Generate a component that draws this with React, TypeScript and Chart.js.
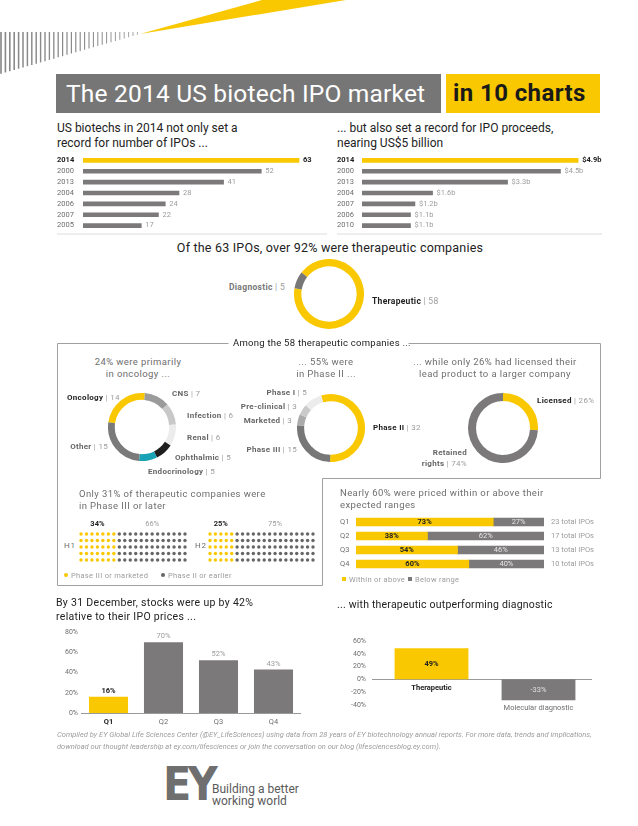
import React, { useEffect, useRef } from 'react';
import { Chart, registerables } from 'chart.js';
Chart.register(...registerables);

const FONT = 'Roboto, "Open Sans", Arial, sans-serif';
const YELLOW = '#f9c800';
const GRAY = '#7c797a';
const DARK = '#222222';
const MID = '#6e6e6e';
const LIGHT = '#9c9c9c';

// ---------- data ----------
const ipoYears = ['2014', '2000', '2013', '2004', '2006', '2007', '2005'];
const ipoCounts = [63, 52, 41, 28, 24, 22, 17];
const proceedsYears = ['2014', '2000', '2013', '2004', '2007', '2006', '2010'];
const proceedsBillions = [4.9, 4.5, 3.3, 1.6, 1.2, 1.1, 1.1];

const typeLabels = ['Therapeutic', 'Diagnostic'];
const typeCounts = [58, 5];

const areaLabels = ['Oncology', 'CNS', 'Infection', 'Renal', 'Ophthalmic', 'Endocrinology', 'Other'];
const areaCounts = [14, 7, 6, 6, 5, 5, 15];
const areaColors = [YELLOW, '#9b9b9b', '#c8c8c8', '#ececec', '#1e1e1e', '#17a2b5', '#7a7a7a'];

const phaseLabels = ['Phase II', 'Phase III', 'Marketed', 'Pre-clinical', 'Phase I'];
const phaseCounts = [32, 15, 3, 3, 5];
const phaseColors = [YELLOW, '#777777', '#ababab', '#cacaca', '#ececec'];

const licenseLabels = ['Licensed', 'Retained rights'];
const licensePct = [26, 74];

const halves = ['H1', 'H2'];
const phase3Pct = [34, 25];
const earlierPct = [66, 75];
const phase3Cols = [7, 5];
const earlierCols = [13, 15];
const gridRows = 5;

const quarters = ['Q1', 'Q2', 'Q3', 'Q4'];
const withinPct = [73, 38, 54, 60];
const belowPct = [27, 62, 46, 40];
const totalIpos = [23, 17, 13, 10];

const stockGainPct = [16, 70, 52, 43];
const segmentLabels = ['Therapeutic', 'Molecular diagnostic'];
const segmentGainPct = [49, -33];

// ---------- helpers ----------
const noPlugins = { legend: { display: false }, tooltip: { enabled: false } };

function ChartCanvas({ x, y, w, h, config }: any) {
  const ref = useRef<HTMLCanvasElement>(null);
  useEffect(() => {
    const c = new Chart(ref.current as HTMLCanvasElement, config());
    return () => c.destroy();
  }, []);
  return (
    <canvas
      ref={ref}
      width={w}
      height={h}
      style={{ position: 'absolute', left: x, top: y, width: w, height: h }}
    />
  );
}

function hbarConfig(labels: string[], values: number[], max: number, axisW: number, fmt: (v: number) => string) {
  return () => ({
    type: 'bar',
    data: {
      labels,
      datasets: [{ data: values, backgroundColor: values.map((_, i) => (i === 0 ? YELLOW : GRAY)), barThickness: 4 }],
    },
    options: {
      responsive: false,
      animation: false,
      events: [],
      indexAxis: 'y',
      layout: { padding: { top: 6, bottom: 6, left: 0, right: 0 } },
      plugins: noPlugins,
      scales: {
        x: { display: false, min: 0, max },
        y: {
          grid: { display: false, drawTicks: false },
          border: { display: false },
          ticks: {
            padding: 0,
            autoSkip: false,
            crossAlign: 'far',
            color: (c: any) => (c.index === 0 ? DARK : MID),
            font: (c: any) => ({ family: FONT, size: 7.5, weight: c.index === 0 ? 'bold' : 'normal' }),
          },
          afterFit: (s: any) => {
            s.width = axisW;
          },
        },
      },
    },
    plugins: [
      {
        id: 'vals',
        afterDatasetsDraw(chart: any) {
          const ctx = chart.ctx;
          const meta = chart.getDatasetMeta(0);
          ctx.save();
          ctx.textBaseline = 'middle';
          ctx.textAlign = 'left';
          meta.data.forEach((bar: any, i: number) => {
            ctx.font = `${i === 0 ? 'bold ' : ''}7.5px ${FONT}`;
            ctx.fillStyle = i === 0 ? DARK : LIGHT;
            ctx.fillText(fmt(values[i]), bar.x + 4, bar.y);
          });
          ctx.restore();
        },
      },
    ],
  });
}

function donutConfig(labels: string[], values: number[], colors: string[], cutout: string, rotation: number) {
  return () => ({
    type: 'doughnut',
    data: { labels, datasets: [{ data: values, backgroundColor: colors, borderWidth: 0 }] },
    options: {
      responsive: false,
      animation: false,
      events: [],
      cutout,
      rotation,
      layout: { padding: 0 },
      plugins: noPlugins,
    },
  });
}

function dotsConfig(idx: number) {
  const yc = phase3Cols[idx];
  const gc = earlierCols[idx];
  const total = yc + gc;
  const ptsY: any[] = [];
  const ptsG: any[] = [];
  for (let c = 0; c < total; c++) {
    for (let r = 0; r < gridRows; r++) (c < yc ? ptsY : ptsG).push({ x: c, y: r });
  }
  return () => ({
    type: 'scatter',
    data: {
      datasets: [
        { data: ptsY, backgroundColor: YELLOW, pointRadius: 1.7, pointBorderWidth: 0, clip: false },
        { data: ptsG, backgroundColor: '#666666', pointRadius: 1.7, pointBorderWidth: 0, clip: false },
      ],
    },
    options: {
      responsive: false,
      animation: false,
      events: [],
      layout: { padding: { left: 5, right: 5, top: 18, bottom: 6 } },
      plugins: noPlugins,
      scales: {
        x: { display: false, min: 0, max: total - 1 },
        y: { display: false, min: 0, max: gridRows - 1, reverse: true },
      },
    },
    plugins: [
      {
        id: 'pct',
        afterDatasetsDraw(chart: any) {
          const { ctx, scales, chartArea } = chart;
          const xs = scales.x;
          ctx.save();
          ctx.textAlign = 'center';
          ctx.textBaseline = 'middle';
          const yLab = chartArea.top - 10;
          ctx.font = `bold 7.5px ${FONT}`;
          ctx.fillStyle = DARK;
          ctx.fillText(phase3Pct[idx] + '%', (xs.getPixelForValue(0) + xs.getPixelForValue(yc - 1)) / 2, yLab);
          ctx.font = `7.5px ${FONT}`;
          ctx.fillStyle = LIGHT;
          ctx.fillText(earlierPct[idx] + '%', (xs.getPixelForValue(yc) + xs.getPixelForValue(total - 1)) / 2, yLab);
          ctx.restore();
        },
      },
    ],
  });
}

const pricedConfig = () => ({
  type: 'bar',
  data: {
    labels: quarters,
    datasets: [
      { label: 'Within or above', data: withinPct, backgroundColor: YELLOW, barThickness: 8 },
      { label: 'Below range', data: belowPct, backgroundColor: GRAY, barThickness: 8 },
    ],
  },
  options: {
    responsive: false,
    animation: false,
    events: [],
    indexAxis: 'y',
    layout: { padding: { top: 6, bottom: 6, left: 0, right: 56 } },
    plugins: noPlugins,
    scales: {
      x: { display: false, stacked: true, min: 0, max: 100 },
      y: {
        stacked: true,
        grid: { display: false, drawTicks: false },
        border: { display: false },
        ticks: { padding: 0, autoSkip: false, crossAlign: 'far', color: MID, font: { family: FONT, size: 7.5 } },
        afterFit: (s: any) => {
          s.width = 16;
        },
      },
    },
  },
  plugins: [
    {
      id: 'inner',
      afterDatasetsDraw(chart: any) {
        const { ctx, chartArea } = chart;
        ctx.save();
        ctx.textAlign = 'center';
        ctx.textBaseline = 'middle';
        chart.getDatasetMeta(0).data.forEach((bar: any, i: number) => {
          ctx.font = `bold 7.5px ${FONT}`;
          ctx.fillStyle = DARK;
          ctx.fillText(withinPct[i] + '%', (bar.x + bar.base) / 2, bar.y);
        });
        chart.getDatasetMeta(1).data.forEach((bar: any, i: number) => {
          ctx.font = `7.5px ${FONT}`;
          ctx.fillStyle = '#e6e6e6';
          ctx.fillText(belowPct[i] + '%', (bar.x + bar.base) / 2, bar.y);
          ctx.textAlign = 'left';
          ctx.fillStyle = LIGHT;
          ctx.fillText(totalIpos[i] + ' total IPOs', chartArea.right + 7, bar.y);
          ctx.textAlign = 'center';
        });
        ctx.restore();
      },
    },
  ],
});

const stockConfig = () => ({
  type: 'bar',
  data: {
    labels: quarters,
    datasets: [
      {
        data: stockGainPct,
        backgroundColor: stockGainPct.map((_, i) => (i === 0 ? YELLOW : GRAY)),
        categoryPercentage: 1,
        barPercentage: 0.71,
      },
    ],
  },
  options: {
    responsive: false,
    animation: false,
    events: [],
    layout: { padding: { top: 10, bottom: 0, left: 0, right: 0 } },
    plugins: noPlugins,
    scales: {
      x: {
        grid: { display: false, drawTicks: false },
        border: { display: true, color: '#9a9a9a', width: 1 },
        ticks: {
          padding: 5,
          color: (c: any) => (c.index === 0 ? DARK : MID),
          font: (c: any) => ({ family: FONT, size: 7.5, weight: c.index === 0 ? 'bold' : 'normal' }),
        },
        afterFit: (s: any) => {
          s.height = 17;
        },
      },
      y: {
        min: 0,
        max: 80,
        grid: { display: false, drawTicks: false },
        border: { display: false },
        ticks: {
          stepSize: 20,
          padding: 3,
          color: MID,
          font: { family: FONT, size: 7 },
          callback: (v: any) => v + '%',
        },
        afterFit: (s: any) => {
          s.width = 30;
        },
      },
    },
  },
  plugins: [
    {
      id: 'vals',
      afterDatasetsDraw(chart: any) {
        const ctx = chart.ctx;
        ctx.save();
        ctx.textAlign = 'center';
        ctx.textBaseline = 'bottom';
        chart.getDatasetMeta(0).data.forEach((bar: any, i: number) => {
          ctx.font = `${i === 0 ? 'bold ' : ''}7.5px ${FONT}`;
          ctx.fillStyle = i === 0 ? DARK : LIGHT;
          ctx.fillText(stockGainPct[i] + '%', bar.x, bar.y - 2);
        });
        ctx.restore();
      },
    },
  ],
});

const segmentConfig = () => ({
  type: 'bar',
  data: {
    labels: segmentLabels,
    datasets: [
      {
        data: segmentGainPct,
        backgroundColor: segmentGainPct.map((_, i) => (i === 0 ? YELLOW : GRAY)),
        categoryPercentage: 1,
        barPercentage: 0.69,
      },
    ],
  },
  options: {
    responsive: false,
    animation: false,
    events: [],
    layout: { padding: { top: 8, bottom: 8, left: 0, right: 0 } },
    plugins: noPlugins,
    scales: {
      x: { display: false },
      y: {
        min: -40,
        max: 60,
        grid: { display: false, drawTicks: false },
        border: { display: false },
        ticks: {
          stepSize: 20,
          padding: 12,
          color: MID,
          font: { family: FONT, size: 7 },
          callback: (v: any) => v + '%',
        },
        afterFit: (s: any) => {
          s.width = 38;
        },
      },
    },
  },
  plugins: [
    {
      id: 'zero',
      beforeDatasetsDraw(chart: any) {
        const { ctx, chartArea, scales } = chart;
        const y0 = Math.round(scales.y.getPixelForValue(0)) + 0.5;
        ctx.save();
        ctx.strokeStyle = '#9a9a9a';
        ctx.lineWidth = 1;
        ctx.beginPath();
        ctx.moveTo(chartArea.left - 6, y0);
        ctx.lineTo(chartArea.right + 2, y0);
        ctx.stroke();
        ctx.restore();
      },
      afterDatasetsDraw(chart: any) {
        const { ctx, scales } = chart;
        const y0 = scales.y.getPixelForValue(0);
        ctx.save();
        ctx.textAlign = 'center';
        ctx.textBaseline = 'middle';
        chart.getDatasetMeta(0).data.forEach((bar: any, i: number) => {
          const v = segmentGainPct[i];
          ctx.font = `${v >= 0 ? 'bold ' : ''}7.5px ${FONT}`;
          ctx.fillStyle = v >= 0 ? DARK : '#e0e0e0';
          ctx.fillText(v + '%', bar.x, (bar.y + bar.base) / 2);
          if (v >= 0) {
            ctx.font = `bold 7.5px ${FONT}`;
            ctx.fillStyle = DARK;
            ctx.fillText(segmentLabels[i], bar.x, y0 + 9);
          } else {
            ctx.font = `7.5px ${FONT}`;
            ctx.fillStyle = MID;
            ctx.fillText(segmentLabels[i], bar.x, bar.y + 8);
          }
        });
        ctx.restore();
      },
    },
  ],
});

// ---------- text helpers ----------
function Txt({ x, y, size = 10, color = DARK, weight = 'normal', lh, ls, italic, align, w, children }: any) {
  const L = lh ?? Math.round(size * 1.25);
  const style: any = {
    position: 'absolute',
    top: y - L / 2,
    fontSize: size,
    lineHeight: L + 'px',
    color,
    fontWeight: weight,
    whiteSpace: 'nowrap',
    letterSpacing: ls ?? 0,
    fontStyle: italic ? 'italic' : 'normal',
  };
  if (align === 'center') {
    style.left = x - w / 2;
    style.width = w;
    style.textAlign = 'center';
  } else if (align === 'right') {
    style.right = 638 - x;
    style.textAlign = 'right';
  } else style.left = x;
  return <div style={style}>{children}</div>;
}

function Lbl({ x, y, b, n, bc = '#666', align, size = 8 }: any) {
  return (
    <Txt x={x} y={y} size={size} align={align} ls={0.3}>
      <span style={{ fontWeight: 'bold', color: bc }}>{b}</span>
      <span style={{ color: LIGHT }}> | {n}</span>
    </Txt>
  );
}

function Stripes() {
  const lines = [];
  for (let i = 0; i < 32; i++) {
    const x = 1 + i * 4.4;
    const t = x / 140;
    lines.push(
      <line key={i} x1={x} x2={x} y1={32} y2={74 - 40 * t} stroke="#8a8a8a" strokeWidth={1.7 - 1.0 * t} />
    );
  }
  return <>{lines}</>;
}

export default function App() {
  return (
    <div
      style={{
        position: 'absolute',
        left: 0,
        top: 0,
        width: 638,
        height: 826,
        background: '#fff',
        fontFamily: FONT,
        overflow: 'hidden',
      }}
    >
      <svg width={638} height={826} style={{ position: 'absolute', left: 0, top: 0 }}>
        <Stripes />
        <polygon points="140,34 262,0 346,0" fill={YELLOW} />
        <polyline
          points="228.5,343.5 57.5,343.5 57.5,585.5 322.5,585.5 322.5,478.5 600.5,478.5 600.5,343.5 408.5,343.5"
          fill="none"
          stroke="#a0a0a0"
          strokeWidth={1}
        />
        <line x1={57} x2={327} y1={234} y2={234} stroke="#eeeeee" strokeWidth={2} />
        <line x1={337} x2={602} y1={234} y2={234} stroke="#eeeeee" strokeWidth={2} />
      </svg>

      {/* title */}
      <div style={{ position: 'absolute', left: 56, top: 74, width: 385, height: 39, background: '#767676' }} />
      <Txt x={66} y={93.5} size={24.5} color="#ffffff" lh={39} ls={0.2}>
        The 2014 US biotech IPO market
      </Txt>
      <div style={{ position: 'absolute', left: 446, top: 74, width: 154, height: 39, background: YELLOW }} />
      <Txt x={453} y={93.5} size={24} weight="bold" color="#1a1a1a" lh={39} ls={0.4}>
        in 10 charts
      </Txt>

      <Txt x={57} y={128} size={12} lh={15}>
        US biotechs in 2014 not only set a<br />record for number of IPOs ...
      </Txt>
      <Txt x={337} y={128} size={12} lh={15}>
        ... but also set a record for IPO proceeds,<br />nearing US$5 billion
      </Txt>

      <ChartCanvas x={57} y={149} w={266} h={88} config={hbarConfig(ipoYears, ipoCounts, 70, 26, (v) => String(v))} />
      <ChartCanvas
        x={337}
        y={149}
        w={272}
        h={88}
        config={hbarConfig(proceedsYears, proceedsBillions, 5.6, 25, (v) => '$' + v.toFixed(1) + 'b')}
      />

      {/* therapeutic vs diagnostic */}
      <Txt x={330} y={248} size={12.5} align="center" w={380} ls={0.2}>
        Of the 63 IPOs, over 92% were therapeutic companies
      </Txt>
      <ChartCanvas x={294} y={259} w={70} h={70} config={donutConfig(typeLabels, typeCounts, [YELLOW, '#777777'], '79%', -52)} />
      <Lbl x={229} y={287} b="Diagnostic" n="5" bc="#777" size={8.5} />
      <Lbl x={372} y={301} b="Therapeutic" n="58" bc={DARK} size={8.5} />

      {/* among the 58 */}
      <Txt x={233} y={343} size={9.5} ls={0.25}>
        Among the 58 therapeutic companies ...
      </Txt>

      <Txt x={138} y={362} size={9.5} color={MID} align="center" w={160} lh={12} ls={0.4}>
        24% were primarily
        <br />
        in oncology ...
      </Txt>
      <ChartCanvas x={108} y={393} w={68} h={68} config={donutConfig(areaLabels, areaCounts, areaColors, '80%', -82)} />
      <Lbl x={67} y={398} b="Oncology" n="14" bc={DARK} />
      <Lbl x={172} y={394} b="CNS" n="7" />
      <Lbl x={187} y={416} b="Infection" n="6" />
      <Lbl x={187} y={438} b="Renal" n="6" />
      <Lbl x={175} y={458} b="Ophthalmic" n="5" />
      <Lbl x={148} y={472} b="Endocrinology" n="5" />
      <Lbl x={108} y={447} b="Other" n="15" align="right" />

      <Txt x={326} y={362} size={9.5} color={MID} align="center" w={120} lh={12} ls={0.4}>
        ... 55% were
        <br />
        in Phase II ...
      </Txt>
      <ChartCanvas x={297} y={394} w={68} h={68} config={donutConfig(phaseLabels, phaseCounts, phaseColors, '79%', -17)} />
      <Lbl x={307} y={393} b="Phase I" n="5" align="right" />
      <Lbl x={297} y={407} b="Pre-clinical" n="3" align="right" />
      <Lbl x={292} y={421} b="Marketed" n="3" align="right" />
      <Lbl x={297} y={450} b="Phase III" n="15" align="right" />
      <Lbl x={373} y={428} b="Phase II" n="32" bc={DARK} />

      <Txt x={495} y={362} size={9.5} color={MID} align="center" w={200} lh={12} ls={0.4}>
        ... while only 26% had licensed their
        <br />
        lead product to a larger company
      </Txt>
      <ChartCanvas x={468} y={393} w={70} h={70} config={donutConfig(licenseLabels, licensePct, [YELLOW, GRAY], '77%', 0)} />
      <Lbl x={537} y={401} b="Licensed" n="26%" bc={DARK} />
      <Txt x={467} y={453} size={8} align="right" ls={0.3}>
        <span style={{ fontWeight: 'bold', color: '#666' }}>Retained</span>
      </Txt>
      <Txt x={467} y={464} size={8} align="right" ls={0.3}>
        <span style={{ fontWeight: 'bold', color: '#666' }}>rights</span>
        <span style={{ color: LIGHT }}> | 74%</span>
      </Txt>

      {/* dots */}
      <Txt x={79} y={494} size={9.5} color={MID} lh={12} ls={0.4}>
        Only 31% of therapeutic companies were
        <br />
        in Phase III or later
      </Txt>
      <ChartCanvas x={76} y={516} w={114} h={50} config={dotsConfig(0)} />
      <ChartCanvas x={205} y={516} w={113} h={50} config={dotsConfig(1)} />
      <Txt x={64} y={546} size={8} color={MID} ls={0.8}>
        {halves[0]}
      </Txt>
      <Txt x={195} y={546} size={8} color={MID} ls={0.8}>
        {halves[1]}
      </Txt>
      <div style={{ position: 'absolute', left: 64, top: 573, width: 4, height: 4, borderRadius: 2, background: YELLOW }} />
      <Txt x={71} y={575} size={7.5} color={LIGHT} ls={0.3}>
        Phase III or marketed
      </Txt>
      <div style={{ position: 'absolute', left: 161, top: 573, width: 4, height: 4, borderRadius: 2, background: '#666' }} />
      <Txt x={168} y={575} size={7.5} color={LIGHT} ls={0.3}>
        Phase II or earlier
      </Txt>

      {/* priced */}
      <Txt x={340} y={493} size={9.5} color={MID} lh={12} ls={0.4}>
        Nearly 60% were priced within or above their
        <br />
        expected ranges
      </Txt>
      <ChartCanvas x={340} y={509} w={260} h={68} config={pricedConfig} />
      <div style={{ position: 'absolute', left: 342, top: 577, width: 4, height: 4, background: YELLOW }} />
      <Txt x={349} y={579} size={7.5} color={LIGHT} ls={0.3}>
        Within or above
      </Txt>
      <div style={{ position: 'absolute', left: 408, top: 577, width: 4, height: 4, background: GRAY }} />
      <Txt x={415} y={579} size={7.5} color={LIGHT} ls={0.3}>
        Below range
      </Txt>

      {/* stock performance */}
      <Txt x={56} y={603} size={10.5} lh={14} ls={0.3}>
        By 31 December, stocks were up by 42%
        <br />
        relative to their IPO prices ...
      </Txt>
      <ChartCanvas x={51} y={622} w={250} h={108} config={stockConfig} />

      <Txt x={337} y={604} size={10.5} ls={0.2}>
        ... with therapeutic outperforming diagnostic
      </Txt>
      <ChartCanvas x={340} y={625} w={252} h={96} config={segmentConfig} />

      {/* footer */}
      <Txt x={57} y={735} size={7.5} color={LIGHT} italic lh={12}>
        Compiled by EY Global Life Sciences Center (@EY_LifeSciences) using data from 28 years of EY biotechnology annual reports. For more data, trends and implications,
        <br />
        download our thought leadership at ey.com/lifesciences or join the conversation on our blog (lifesciencesblog.ey.com).
      </Txt>

      <div
        style={{
          position: 'absolute',
          left: 163,
          top: 760,
          fontSize: 46,
          lineHeight: '48px',
          fontWeight: 900,
          color: '#6f6f6f',
          letterSpacing: -4,
          transform: 'scaleX(0.9)',
          transformOrigin: 'left',
          fontFamily: '"DejaVu Sans", ' + FONT,
        }}
      >
        EY
      </div>
      <Txt x={212} y={789} size={12} color="#5a5a5a" lh={12}>
        Building a better
        <br />
        working world
      </Txt>
    </div>
  );
}
